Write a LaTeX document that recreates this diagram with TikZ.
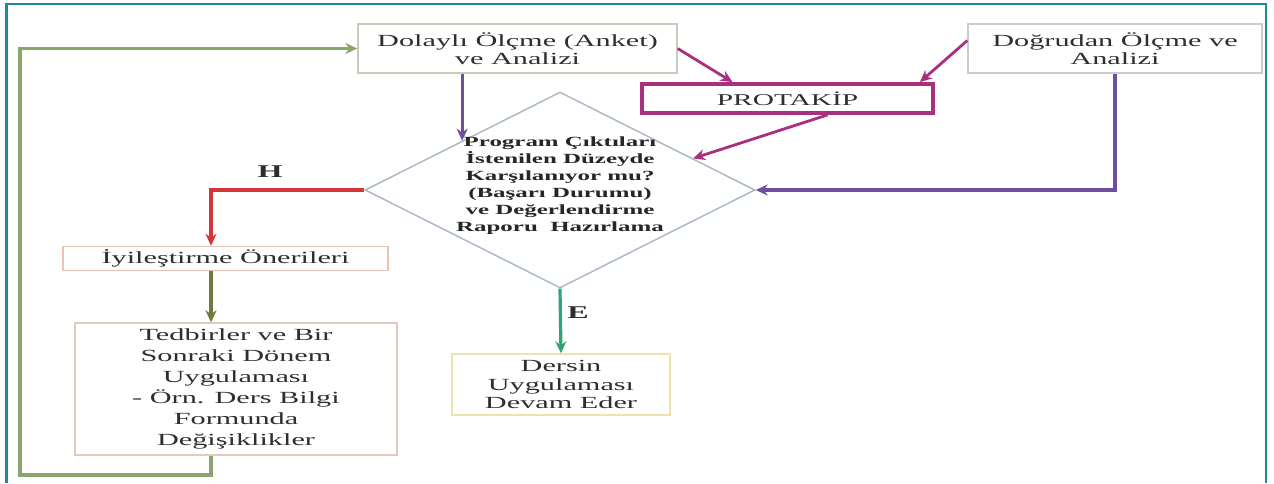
\documentclass[tikz,border=0pt]{standalone}
\usepackage{fontspec}
\setmainfont[FakeStretch=1.78]{Liberation Serif}
\usepackage{tikz}
\usetikzlibrary{arrows.meta, positioning, shapes.geometric, calc}

\definecolor{frameteal}{HTML}{1B8A9E}
\definecolor{loopgreen}{HTML}{8AA66C}
\definecolor{nored}{HTML}{D6353A}
\definecolor{olivearr}{HTML}{6E7B3C}
\definecolor{yesgreen}{HTML}{2FA374}
\definecolor{measpurple}{HTML}{6F4E9E}
\definecolor{protmag}{HTML}{A8307F}
\definecolor{textgray}{HTML}{2E2E2E}
\definecolor{diagray}{HTML}{A9B6C6}
\definecolor{dolbord}{HTML}{C5CCBC}
\definecolor{dogbord}{HTML}{C9CDD2}
\definecolor{iyibord}{HTML}{E9C4B0}
\definecolor{tedbord}{HTML}{E2CBBE}
\definecolor{derbord}{HTML}{EEE2AE}

\begin{document}
\begin{tikzpicture}[x=1pt, y=-1pt,
    box/.style={draw=#1, line width=1.4pt, fill=white, inner sep=0pt, align=center,
        text=textgray, font=\fontsize{17}{18.5}\selectfont},
    link/.style={draw=#1, line width=3.2pt, -{Stealth[length=12pt,width=11pt]}},
    lbl/.style={font=\fontsize{18}{18}\bfseries\selectfont, text=textgray}]
    \useasboundingbox (0,0) rectangle (1274,483);
    \draw[frameteal, line width=2.8pt] (6.5,483) -- (6.5,4) -- (1266,4) -- (1266,483);

    \coordinate (lane) at (211,0);
    \coordinate (loopCorner) at (20,475);

    \node[box=dolbord, minimum width=319pt, minimum height=49pt] (dolayli) at (517.5,48.5) {Dolaylı Ölçme (Anket)\\ve Analizi};
    \node[box=dogbord, minimum width=294pt, minimum height=49pt] (dogrudan) at (1115,48.5) {Doğrudan Ölçme ve\\Analizi};
    \node[box=protmag, line width=3.8pt, minimum width=291pt, minimum height=29pt,
        font=\fontsize{16.5}{18}\selectfont] (protakip) at (787.5,98.5) {PROTAKİP};

    \node[diamond, draw=diagray, line width=1.4pt, fill=white, inner sep=0pt,
        minimum width=390pt, minimum height=196pt] (karar) at (560,190) {};
    \node[align=center, text=black!85, font=\fontsize{14}{17}\bfseries\selectfont] (kararText) at (560,186)
        {Program Çıktıları\\İstenilen Düzeyde\\Karşılanıyor mu?\\(Başarı Durumu)\\ve Değerlendirme\\Raporu\ \ Hazırlama};

    \node[box=iyibord, minimum width=325pt, minimum height=24pt] (iyilestirme) at (225.5,258.5) {İyileştirme Önerileri};
    \node[box=tedbord, minimum width=322pt, minimum height=132pt, font=\fontsize{17}{21}\selectfont] (tedbirler) at (236,389)
        {Tedbirler ve Bir\\Sonraki Dönem\\Uygulaması\\- Örn. Ders Bilgi\\Formunda\\Değişiklikler};
    \node[box=derbord, minimum width=218pt, minimum height=61pt] (dersin) at (561,384.5) {Dersin\\Uygulaması\\Devam Eder};

    \node[lbl] (hayir) at (270,172) {H};
    \node[lbl] (evet) at (578,313) {E};

    % connectors
    \draw[link=loopgreen] (tedbirler.south -| lane) |- (loopCorner) |- (dolayli.west);
    \draw[link=measpurple] (karar.north west |- dolayli.south) -- (karar.north west);
    \draw[link=protmag, line width=2.8pt] (dolayli.east) -- ([xshift=-55pt]protakip.north);
    \draw[link=protmag, line width=2.8pt] ($(dogrudan.west)+(0,-8)$) -- ([xshift=-15pt]protakip.north east);
    \draw[link=protmag, line width=2.8pt] ([xshift=40pt]protakip.south) -- ($(karar.north)!0.68!(karar.east)$);
    \draw[link=measpurple] (dogrudan.south) |- (karar.east);
    \draw[link=nored] (karar.west) -| (iyilestirme.north -| lane);
    \draw[link=olivearr] (iyilestirme.south -| lane) -- (tedbirler.north -| lane);
    \draw[link=yesgreen] (karar.south) -- (dersin.north);
\end{tikzpicture}
\end{document}
